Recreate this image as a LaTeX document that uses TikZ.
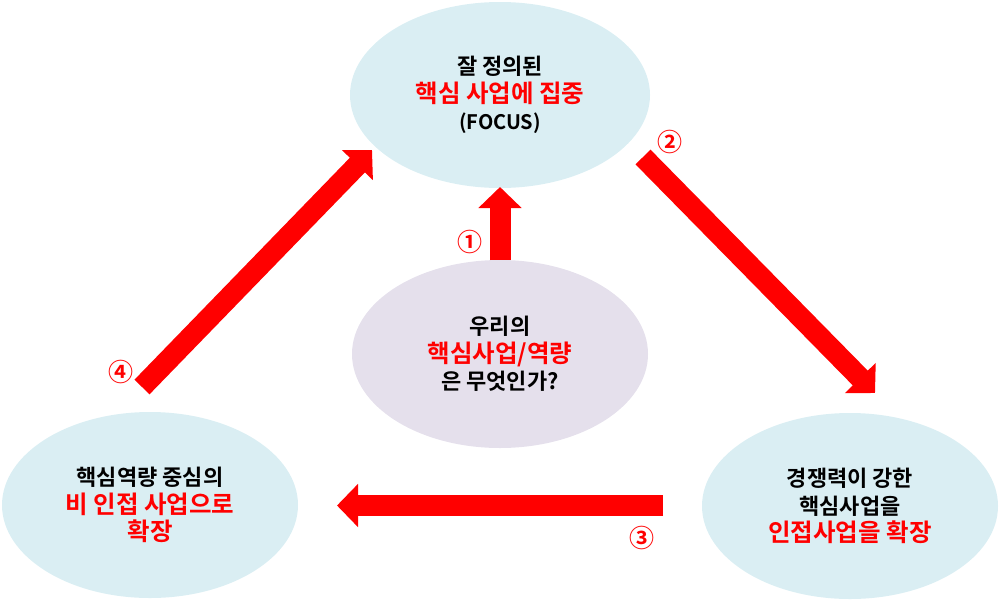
\documentclass[tikz,border=0pt]{standalone}
\usepackage{fontspec}
\setmainfont{Noto Sans CJK KR}[BoldFont={Noto Sans CJK KR Bold}]
\usetikzlibrary{shapes.geometric,arrows.meta}
\definecolor{lblue}{HTML}{DAEEF3}
\definecolor{lav}{HTML}{E5E0EC}
\definecolor{myred}{HTML}{FF0000}
\tikzset{
  blob/.style={ellipse, inner sep=0pt, align=center,
    font=\bfseries\fontsize{22pt}{27.5pt}\selectfont},
  bluebox/.style={blob, fill=lblue},
  lavbox/.style={blob, fill=lav},
  bigarrow/.style={draw=myred, line width=21pt,
    -{Triangle[width=42pt,length=21pt]}},
  numlabel/.style={text=myred, font=\bfseries\fontsize{25pt}{27pt}\selectfont, inner sep=0pt}
}
\newcommand{\rt}[1]{{\color{myred}\fontsize{24.5pt}{27.5pt}\selectfont #1}}
\begin{document}
\begin{tikzpicture}[x=1pt,y=-1pt]
\useasboundingbox (0,0) rectangle (1000,600);
\node[bluebox, minimum width=300pt, minimum height=186pt] (top) at (500,95)
  {잘 정의된\\ \rt{핵심 사업에 집중}\\ {\fontsize{20pt}{27.5pt}\selectfont (FOCUS)}};
\node[lavbox, minimum width=296pt, minimum height=188pt] (mid) at (500,354)
  {우리의\\ \rt{핵심사업/역량}\\ 은 무엇인가?};
\node[bluebox, minimum width=296pt, minimum height=186pt] (bl) at (150,505)
  {핵심역량 중심의\\ \rt{비 인접 사업으로}\\ \rt{확장}};
\node[bluebox, minimum width=296pt, minimum height=186pt] (br) at (850,506)
  {경쟁력이 강한\\ 핵심사업을\\ \rt{인접사업을 확장}};
% arrow end points
\coordinate (a1s) at (500,260);
\coordinate (a1e) at (500,187);
\coordinate (a2s) at (643,157);
\coordinate (a2e) at (875,393);
\coordinate (a3s) at (663,505.5);
\coordinate (a3e) at (337,505.5);
\coordinate (a4s) at (142,387);
\coordinate (a4e) at (372,150);
\draw[bigarrow] (a1s) -- (a1e);
\draw[bigarrow] (a2s) -- (a2e);
\draw[bigarrow] (a3s) -- (a3e);
\draw[bigarrow] (a4s) -- (a4e);
\node[numlabel] (n1) at (470,242) {①};
\node[numlabel] (n2) at (670,142) {②};
\node[numlabel] (n3) at (642,538) {③};
\node[numlabel] (n4) at (121,372) {④};
\end{tikzpicture}
\end{document}
